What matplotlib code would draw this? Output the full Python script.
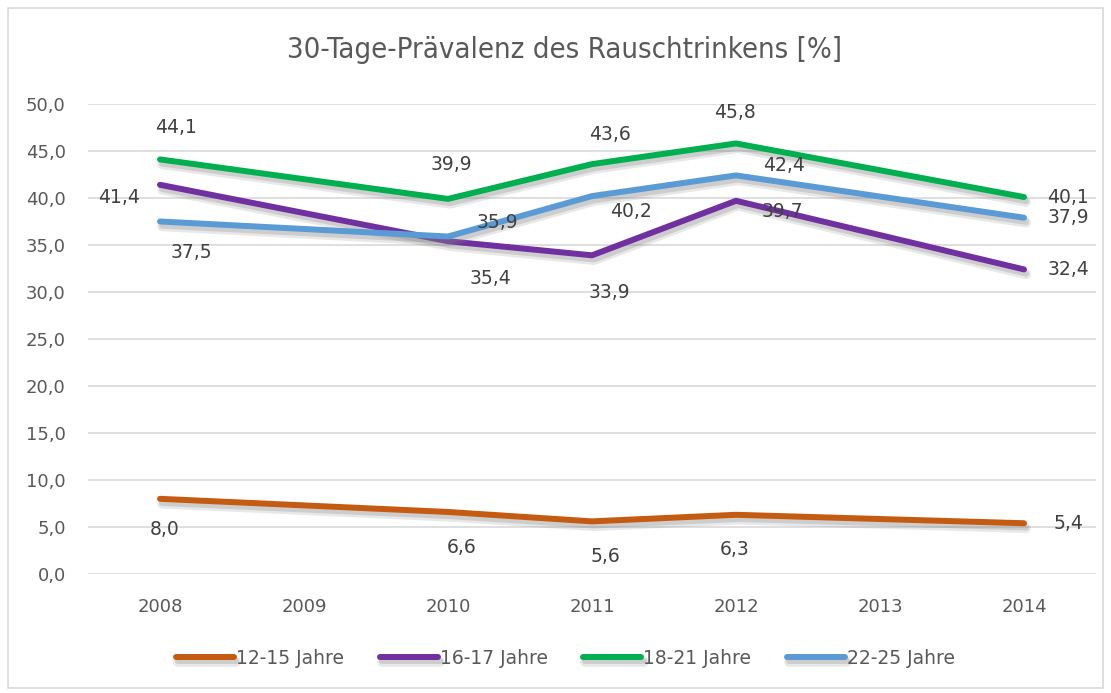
import matplotlib.pyplot as plt
import matplotlib.patheffects as pe
from matplotlib.patches import Rectangle

years = ['2008', '2009', '2010', '2011', '2012', '2013', '2014']
data_years = ['2008', '2010', '2011', '2012', '2014']

age_12_15 = [8.0, 6.6, 5.6, 6.3, 5.4]
age_16_17 = [41.4, 35.4, 33.9, 39.7, 32.4]
age_18_21 = [44.1, 39.9, 43.6, 45.8, 40.1]
age_22_25 = [37.5, 35.9, 40.2, 42.4, 37.9]

series = [
    ('12-15 Jahre', age_12_15, '#C55A11'),
    ('16-17 Jahre', age_16_17, '#7030A0'),
    ('18-21 Jahre', age_18_21, '#00B050'),
    ('22-25 Jahre', age_22_25, '#5B9BD5'),
]

# label offsets in pixels (dx, dy), one per data point
offsets = {
    '12-15 Jahre': [(5, -31), (14, -36), (13, -35), (-1, -35), (44, 0)],
    '16-17 Jahre': [(-41, -13), (42, -37), (17, -37), (46, -11), (44, 0)],
    '18-21 Jahre': [(16, 32), (3, 34), (18, 30), (-1, 31), (44, 0)],
    '22-25 Jahre': [(31, -31), (49, 14), (39, -15), (48, 10), (44, 0)],
}

text_color = '#595959'
plt.rcParams['font.family'] = ['DejaVu Sans']

fig = plt.figure(figsize=(11.11, 6.93), dpi=100)
fig.patches.append(Rectangle((0.007, 0.007), 0.986, 0.982, transform=fig.transFigure,
                             fill=False, edgecolor='#D9D9D9', linewidth=1.2))
ax = fig.add_axes([0.0792, 0.1717, 0.9073, 0.6783])

xpos = [years.index(y) for y in data_years]
for name, vals, color in series:
    ax.plot(xpos, vals, color=color, linewidth=4.3, solid_capstyle='round', label=name,
            path_effects=[pe.SimpleLineShadow(offset=(1.5, -3.5), shadow_color='#8c8c8c', alpha=0.2,
                                              linewidth=7),
                          pe.SimpleLineShadow(offset=(1.5, -3), shadow_color='#7f7f7f', alpha=0.25),
                          pe.Normal()])
    for i, v in enumerate(vals):
        dx, dy = offsets[name][i]
        ax.annotate(f'{v:.1f}'.replace('.', ','), (xpos[i], v), xytext=(dx, dy),
                    textcoords='offset pixels', ha='center', va='center',
                    fontsize=13.5, color='#404040')

ax.set_xlim(-0.5, 6.5)
ax.set_ylim(0, 50)
ax.set_yticks(range(0, 51, 5))
ax.set_yticklabels([f'{v:.1f}'.replace('.', ',') for v in range(0, 51, 5)])
ax.set_xticks(range(len(years)))
ax.set_xticklabels(years)
ax.tick_params(length=0, labelsize=13, colors=text_color)
ax.tick_params(axis='x', pad=17)
ax.tick_params(axis='y', pad=16)
ax.grid(axis='y', color='#D9D9D9', linewidth=1.2)
ax.set_axisbelow(True)
for s in ax.spines.values():
    s.set_visible(False)

fig.text(0.508, 0.928, '30-Tage-Prävalenz des Rauschtrinkens [%]', ha='center', va='center',
         fontsize=21, color=text_color, family='DejaVu Sans', fontstretch='condensed')

leg = fig.legend(loc='center', bbox_to_anchor=(0.509, 0.05), ncol=4, frameon=False,
                 fontsize=13.5, handlelength=3.1, handletextpad=0.1, columnspacing=1.9)
for t in leg.get_texts():
    t.set_color(text_color)

fig.savefig('out.png', dpi=100)
